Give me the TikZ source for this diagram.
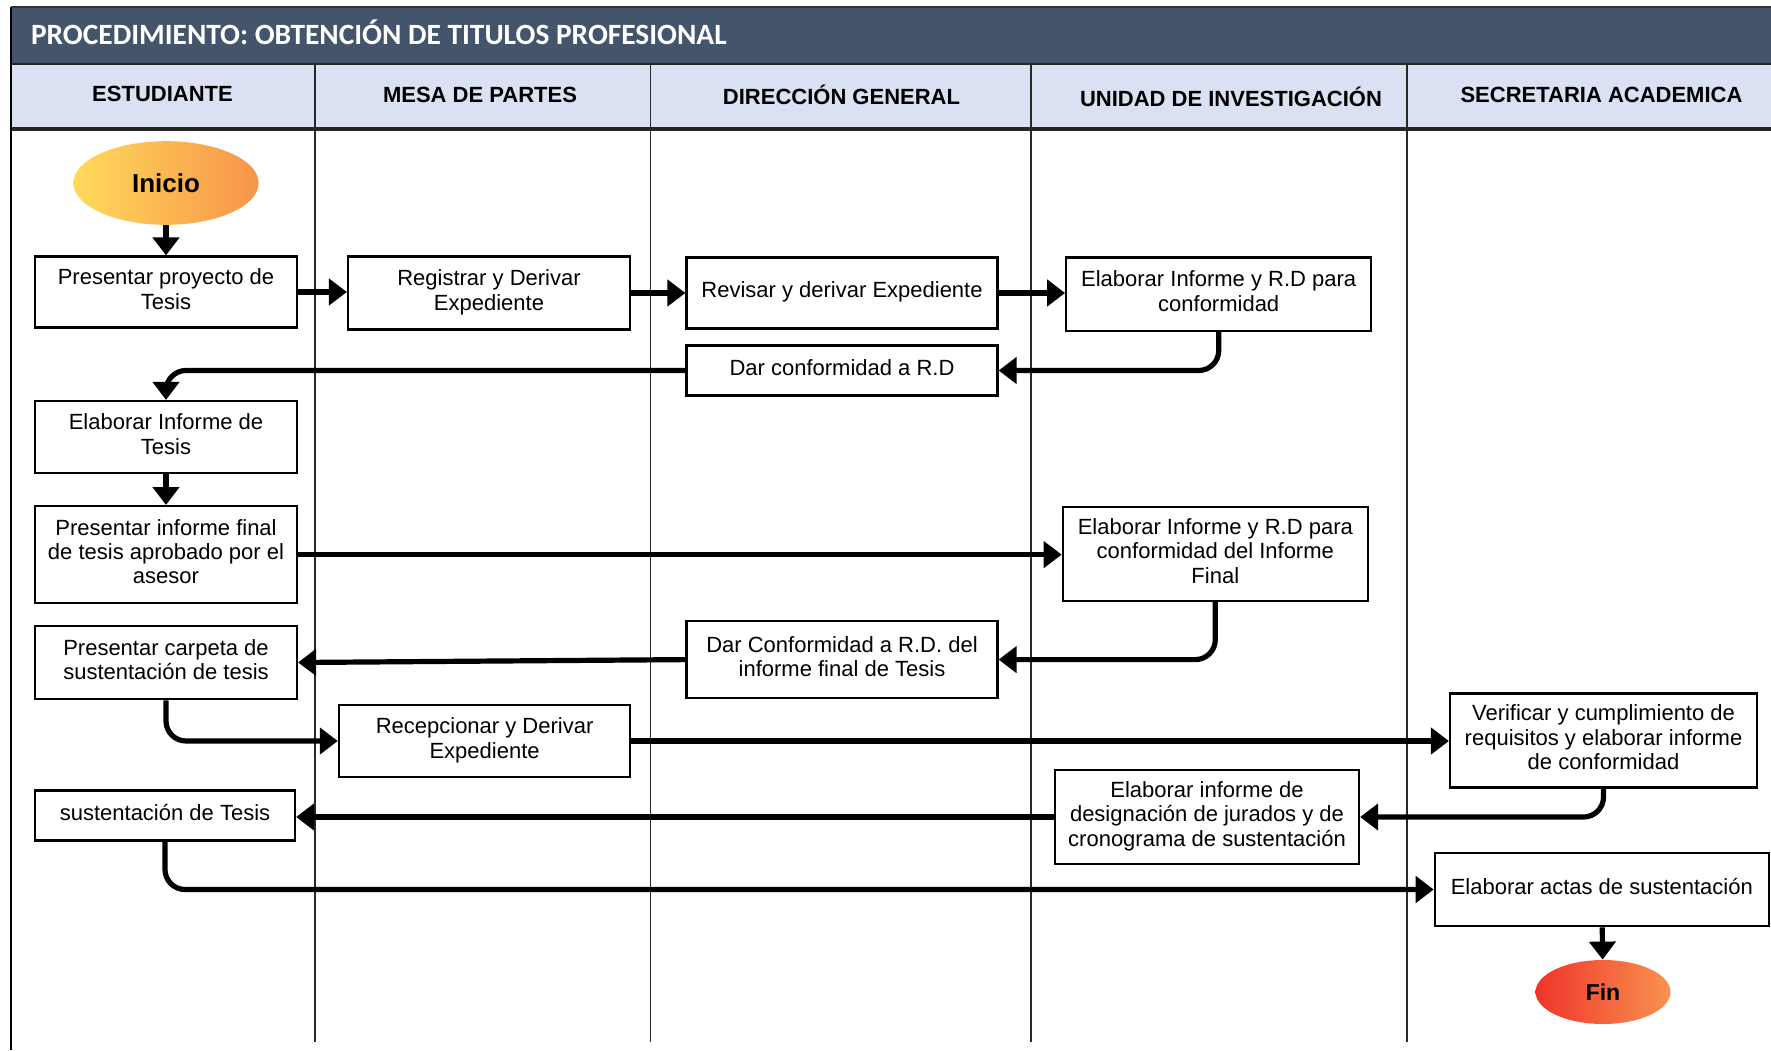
\documentclass[tikz,border=0pt]{standalone}
\usepackage{fontspec}
\setmainfont{Liberation Sans}
\newfontfamily\titlefont{Carlito}
\usetikzlibrary{arrows.meta,shapes.geometric}

\definecolor{bandslate}{RGB}{68,84,106}
\definecolor{headblue}{RGB}{217,225,242}
\definecolor{laneline}{RGB}{40,40,40}
\definecolor{startyellow}{RGB}{255,218,92}
\definecolor{startorange}{RGB}{247,148,72}
\definecolor{endred}{RGB}{240,52,42}
\definecolor{endorange}{RGB}{250,146,80}

\begin{document}
\begin{tikzpicture}[x=0.5pt,y=-0.5pt,
  stepbox/.style={draw, line width=1.1pt, fill=white, align=center,
    inner sep=0pt, text depth=3pt, font=\fontsize{11}{12.2}\selectfont},
  lanehead/.style={font=\fontsize{11}{13}\selectfont\bfseries},
  flow/.style={line width=2.6pt, -{Triangle[length=9pt,width=13pt]}},
  elbowflow/.style={flow, rounded corners=10pt},
  terminal/.style={ellipse, inner sep=0pt, font=\bfseries}]

\useasboundingbox (0,0) rectangle (1771,1050);

% title band
\fill[bandslate] (11,7) rectangle (1771,64);
\draw[line width=1pt, black!80] (11,7) -- (1771,7);
\node[anchor=west, text=white, font=\titlefont\bfseries\fontsize{14.7}{16}\selectfont]
  (title) at (24,32) {PROCEDIMIENTO: OBTENCIÓN DE TITULOS PROFESIONAL};

% lane header row
\fill[headblue] (11,64) rectangle (1771,129);
\draw[line width=1.2pt, black!85] (11,64) -- (1771,64);
\draw[line width=1.6pt, black!85] (11,129) -- (1771,129);

% outer frame and lane dividers
\draw[line width=1.1pt] (11,7) -- (11,1050);
\foreach \lx in {315,650.5,1031,1407}
  \draw[line width=0.7pt, laneline] (\lx,64) -- (\lx,1042);

\node[lanehead] (hEst) at (162.5,94) {ESTUDIANTE};
\node[lanehead] (hMesa) at (480,95) {MESA DE PARTES};
\node[lanehead] (hDir) at (841.5,95) {DIRECCIÓN GENERAL};
\node[lanehead] (hUni) at (1231,97) {UNIDAD DE INVESTIGACIÓN};
\node[lanehead] (hSec) at (1601.5,95) {SECRETARIA ACADEMICA};

% start and end
\node[terminal, minimum width=92.6pt, minimum height=41.8pt,
  left color=startyellow, right color=startorange,
  font=\fontsize{13}{15}\selectfont\bfseries] (ini) at (166,183) {Inicio};
\node[terminal, minimum width=67.5pt, minimum height=32pt,
  left color=endred, right color=endorange,
  font=\fontsize{11.5}{13}\selectfont\bfseries] (fin) at (1603,992) {Fin};

% process steps
\node[stepbox, minimum width=131pt, minimum height=35.5pt] (b1) at (166,292)
  {Presentar proyecto de\\Tesis};
\node[stepbox, minimum width=141pt, minimum height=36.5pt] (b2) at (489,293)
  {Registrar y Derivar\\Expediente};
\node[stepbox, minimum width=155.5pt, minimum height=35.5pt] (b3) at (842,293)
  {Revisar y derivar Expediente};
\node[stepbox, minimum width=152.5pt, minimum height=36.7pt] (b4) at (1218.7,294.2)
  {Elaborar Informe y R.D para\\conformidad};
\node[stepbox, minimum width=155.5pt, minimum height=25pt] (b5) at (842,370.5)
  {Dar conformidad a R.D};
\node[stepbox, minimum width=131pt, minimum height=36pt] (b6) at (166,437)
  {Elaborar Informe de\\Tesis};
\node[stepbox, minimum width=131pt, minimum height=48.5pt] (b7) at (166,554.6)
  {Presentar informe final\\de tesis aprobado por el\\asesor};
\node[stepbox, minimum width=152.5pt, minimum height=47pt] (b8) at (1215.3,554)
  {Elaborar Informe y R.D para\\conformidad del Informe\\Final};
\node[stepbox, minimum width=155.5pt, minimum height=38.5pt] (b9) at (842,659.6)
  {Dar Conformidad a R.D. del\\informe final de Tesis};
\node[stepbox, minimum width=131pt, minimum height=36.7pt] (b10) at (166,662.5)
  {Presentar carpeta de\\sustentación de tesis};
\node[stepbox, minimum width=145.7pt, minimum height=36.2pt] (b11) at (484.6,741)
  {Recepcionar y Derivar\\Expediente};
\node[stepbox, minimum width=153.5pt, minimum height=47pt] (b12) at (1603.5,740.4)
  {Verificar y cumplimiento de\\requisitos y elaborar informe\\de conformidad};
\node[stepbox, minimum width=152pt, minimum height=47pt] (b13) at (1207,817)
  {Elaborar informe de\\designación de jurados y de\\cronograma de sustentación};
\node[stepbox, minimum width=130pt, minimum height=25pt] (b14) at (165,815.5)
  {sustentación de Tesis};
\node[stepbox, minimum width=167pt, minimum height=36.7pt] (b15) at (1601.8,889.5)
  {Elaborar actas de sustentación};

% connectors
\draw[flow] (ini) -- (b1);
\draw[flow] (b1.east) -- (b1.east -| b2.west);
\draw[flow] (b2.east) -- (b2.east -| b3.west);
\draw[flow] (b3.east) -- (b3.east -| b4.west);
\draw[elbowflow] (b4.south) |- (b5.east);
\draw[elbowflow] (b5.west) -| (b6.north);
\draw[flow] (b6) -- (b7);
\draw[flow] (b7.east) -- (b7.east -| b8.west);
\draw[elbowflow] (b8.south) |- (b9.east);
\draw[flow] (b9.west) -- (b10.east);
\draw[elbowflow] (b10.south) |- (b11.west);
\draw[flow] (b11.east) -- (b11.east -| b12.west);
\draw[elbowflow] (b12.south) |- (b13.east);
\draw[flow] (b13.west) -- (b13.west -| b14.east);
\draw[elbowflow] (b14.south) |- (b15.west);
\draw[flow] (b15) -- (fin);

\end{tikzpicture}
\end{document}
